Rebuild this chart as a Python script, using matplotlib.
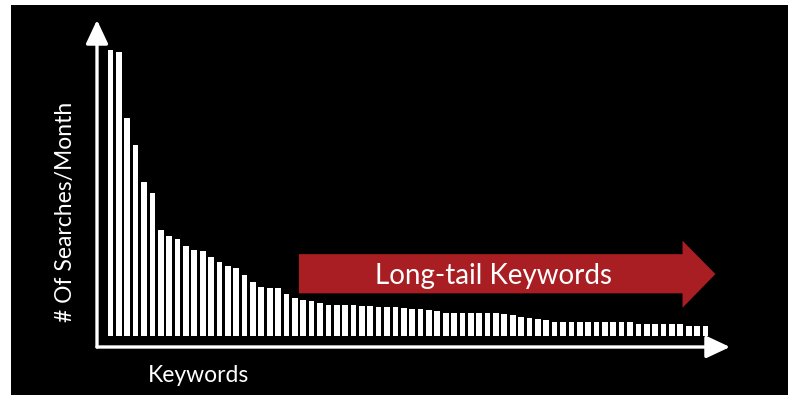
"""Long-tail keywords slide: searches per month for each keyword, sorted."""
import matplotlib
matplotlib.use("Agg")
import matplotlib.pyplot as plt
from matplotlib.patches import Rectangle, Polygon

# bar heights (relative searches/month, one per keyword)
searches = [286, 284, 218, 191, 154, 143, 106, 100, 97, 90,
            86, 85, 79, 74, 70, 68, 61, 54, 49, 48,
            48, 42, 38, 36, 35, 33, 31, 31, 31, 31,
            30, 30, 29, 29, 29, 28, 27, 27, 26, 25,
            23, 23, 23, 23, 23, 23, 23, 22, 21, 19,
            18, 17, 16, 14, 14, 14, 14, 14, 14, 14,
            14, 14, 14, 12, 12, 12, 12, 12, 12, 10,
            10, 10]
keywords = list(range(len(searches)))

x_label = "Keywords"
y_label = "# Of Searches/Month"
tail_label = "Long-tail Keywords"

W, H = 788, 395
RED = "#a81e22"
plt.rcParams.update({"font.family": ["Lato", "DejaVu Sans"]})

fig = plt.figure(figsize=(W / 100, H / 100), dpi=100, facecolor="white")
fig.patches.append(Rectangle((11 / W, 0), (W - 11) / W, (H - 5) / H,
                             transform=fig.transFigure, facecolor="black",
                             edgecolor="none", zorder=-5))

# axes box in pixels: x 97..730, y (from top) 20..347
ax = fig.add_axes([97 / W, (H - 347) / H, 633 / W, 327 / H])
ax.set_facecolor("none")
ax.bar(keywords, searches, width=0.68, color="white", linewidth=0, zorder=3)
ax.set_xlim(-1.61, 73.93)
ax.set_ylim(-11, 316)
ax.axis("off")

head = "-|>,head_length=1.45,head_width=0.68"
for end in [(0, 1), (1, 0)]:
    ax.annotate("", xy=end, xytext=(0, 0), xycoords="axes fraction",
                textcoords="axes fraction",
                arrowprops=dict(arrowstyle=head, color="white", lw=2.4,
                                shrinkA=0, shrinkB=0))

# red long-tail arrow (axes fraction coordinates)
arrow = Polygon([(0.319, 0.164), (0.925, 0.164), (0.925, 0.120),
                 (0.977, 0.223), (0.925, 0.325), (0.925, 0.284),
                 (0.319, 0.284)], closed=True, transform=ax.transAxes,
                facecolor=RED, edgecolor="none", zorder=4, clip_on=False)
ax.add_patch(arrow)
ax.text(0.627, 0.193, tail_label, transform=ax.transAxes, ha="center",
        va="baseline", color="white", fontsize=20, zorder=5)

fig.text(148 / W, (H - 382) / H, x_label, ha="left", va="baseline",
         color="white", fontsize=16.5)
fig.text(72 / W, (H - 212) / H, y_label, rotation=90, ha="center",
         va="baseline", color="white", fontsize=16.5, rotation_mode="anchor")

fig.savefig("out.png", dpi=100, facecolor="white")
